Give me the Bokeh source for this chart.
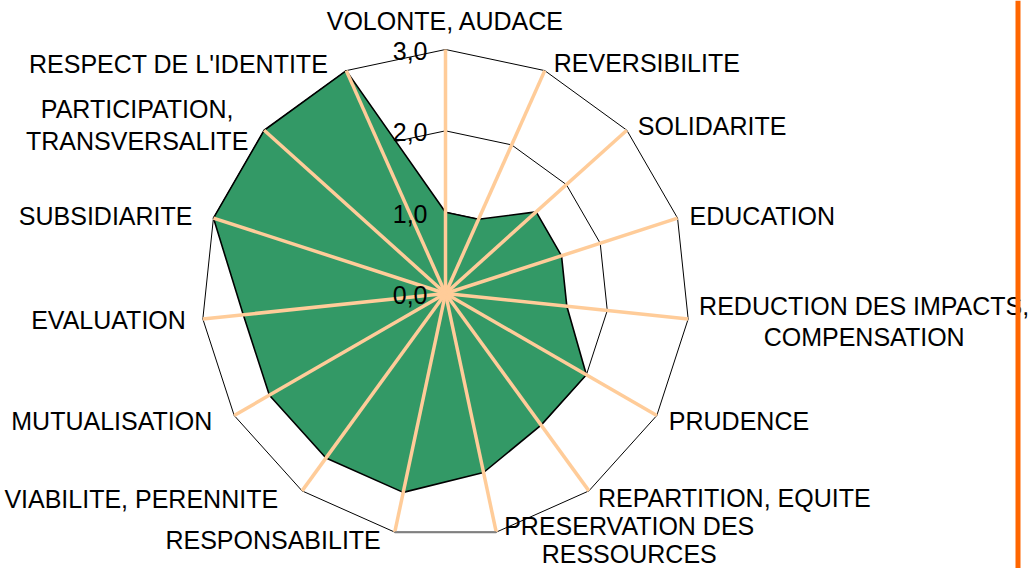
import numpy as np
from bokeh.plotting import figure
from bokeh.models import Range1d, Span
from bokeh.embed import file_html
from bokeh.resources import INLINE
from bokeh.core.properties import value

# ---------------- data ----------------
categories = [
    ["VOLONTE, AUDACE"],
    ["REVERSIBILITE"],
    ["SOLIDARITE"],
    ["EDUCATION"],
    ["REDUCTION DES IMPACTS,", "COMPENSATION"],
    ["PRUDENCE"],
    ["REPARTITION, EQUITE"],
    ["PRESERVATION DES", "RESSOURCES"],
    ["RESPONSABILITE"],
    ["VIABILITE, PERENNITE"],
    ["MUTUALISATION"],
    ["EVALUATION"],
    ["SUBSIDIARITE"],
    ["PARTICIPATION,", "TRANSVERSALITE"],
    ["RESPECT DE L'IDENTITE"],
]
scores = [1.0, 1.0, 1.5, 1.5, 1.5, 2.0, 2.0, 2.25, 2.5, 2.5, 2.5, 2.5, 3.0, 3.0, 3.0]
tick_values = [0.0, 1.0, 2.0, 3.0]
tick_labels = ["0,0", "1,0", "2,0", "3,0"]

# ---------------- layout / style ----------------
W, H = 1032, 568
U = 244 / 3.0            # pixels per unit
CX, CY = 445, 293        # centre in canvas px
FONT = value("Liberation Sans")
FS = "25px"
BFIX = 9.5               # renderer baseline correction (px)

# label placement: (align, [(dx, dy_baseline) per line]) in px relative to spoke tip
label_style = [
    ("center", [(0, -19)]),
    ("left", [(9, 2)]),
    ("left", [(11, 5)]),
    ("left", [(12, 7)]),
    ("center", [(176, -4), (176, 27)]),
    ("left", [(12, 15)]),
    ("left", [(9, 17)]),
    ("center", [(133, 3), (133, 31)]),
    ("right", [(-14, 17)]),
    ("right", [(-24, 18)]),
    ("right", [(-22, 15)]),
    ("right", [(-17, 10)]),
    ("right", [(-21, 7)]),
    ("center", [(-127, -12), (-127, 20)]),
    ("right", [(-18, 3)]),
]

n = len(scores)
ang = np.arange(n) * 2 * np.pi / n
sx, sy = np.sin(ang), np.cos(ang)
rmax = max(tick_values)

p = figure(width=W, height=H, output_backend="svg", toolbar_location=None,
           x_range=Range1d(-CX / U, (W - CX) / U),
           y_range=Range1d(-(H - CY) / U, CY / U),
           x_axis_type=None, y_axis_type=None, min_border=0,
           background_fill_color="white", border_fill_color="white",
           outline_line_color=None)
p.grid.visible = False

# grid rings
for t in tick_values[1:]:
    xs = list(t * sx) + [t * sx[0]]
    ys = list(t * sy) + [t * sy[0]]
    p.line(xs, ys, line_color="black", line_width=1)

# data polygon
px = list(np.array(scores) * sx)
py = list(np.array(scores) * sy)
p.patch(px, py, fill_color="#339966", line_color="black", line_width=1.6)

# spokes
p.segment(x0=[0] * n, y0=[0] * n, x1=list(rmax * sx), y1=list(rmax * sy),
          line_color="#FFCC99", line_width=3.5)

# bottom category-axis segment (grey)
k1, k2 = 7, 8
p.line([rmax * sx[k1], rmax * sx[k2]], [rmax * sy[k1], rmax * sy[k2]],
       line_color="#808080", line_width=2)

# value tick labels
p.text(x=[-18 / U] * len(tick_values), y=[t - (11 - BFIX) / U for t in tick_values],
       text=tick_labels, text_align="right", text_baseline="alphabetic",
       text_font=FONT, text_font_size=FS, text_color="black")

# category labels
groups = {"left": ([], [], []), "right": ([], [], []), "center": ([], [], [])}
for i, lines in enumerate(categories):
    align, offs = label_style[i]
    tx, ty = rmax * sx[i], rmax * sy[i]
    for line, (dx, dy) in zip(lines, offs):
        g = groups[align]
        g[0].append(tx + dx / U)
        g[1].append(ty - (dy - BFIX) / U)
        g[2].append(line)
for align, (gx, gy, gt) in groups.items():
    p.text(x=gx, y=gy, text=gt, text_align=align, text_baseline="alphabetic",
           text_font=FONT, text_font_size=FS, text_color="black")

# orange vertical rule at the right
p.add_layout(Span(location=(1017.5 - CX) / U, dimension="height",
                  line_color="#FF6600", line_width=5))

open("out.html", "w").write(file_html(p, INLINE))
